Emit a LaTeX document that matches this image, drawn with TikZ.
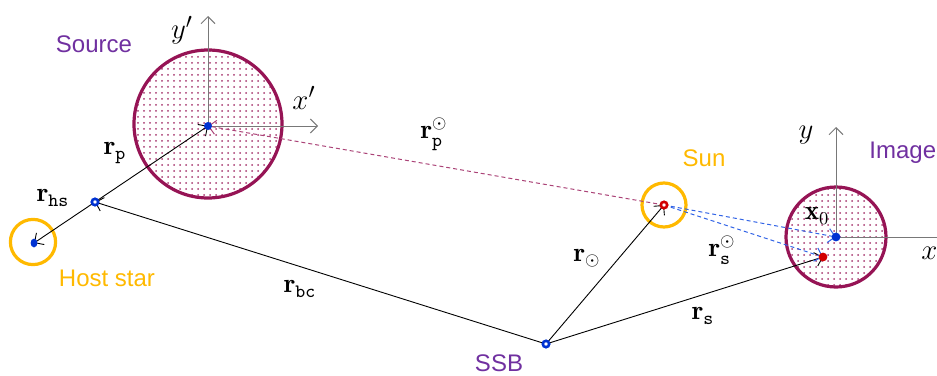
\documentclass[tikz,border=0pt]{standalone}
\usepackage{fontspec}
\newfontfamily\lab{Liberation Sans}
\usetikzlibrary{patterns,arrows.meta}
\definecolor{maroon}{RGB}{150,20,85}
\definecolor{sunyel}{RGB}{255,185,0}
\definecolor{lbl}{RGB}{112,48,160}
\definecolor{dotblue}{RGB}{0,50,210}
\definecolor{dotred}{RGB}{210,0,0}
\definecolor{dashblue}{RGB}{50,100,230}
\definecolor{axgray}{RGB}{120,120,120}
\tikzset{
  vec/.style={draw=black, line width=0.45pt, -{Straight Barb[length=3.5pt,width=7pt]}},
  dvec/.style={line width=0.5pt, dash pattern=on 2pt off 1.5pt, -{Straight Barb[length=3.5pt,width=7pt]}},
  axis/.style={draw=axgray, line width=0.5pt, -{Straight Barb[length=3.5pt,width=7pt]}},
  body/.style={draw=maroon, line width=1.6pt, pattern=dots, pattern color=maroon!85},
  star/.style={draw=sunyel, line width=1.6pt},
  ring/.style={draw=#1, line width=1.3pt, fill=white},
  mlab/.style={font=\fontsize{13.5}{15}\selectfont, inner sep=0pt},
  alab/.style={font=\fontsize{15.5}{17}\selectfont, inner sep=0pt},
  slab/.style={font=\lab\fontsize{12}{14}\selectfont, inner sep=0pt},
}
\begin{document}
\begin{tikzpicture}[x=0.5pt,y=-0.5pt]
\useasboundingbox (0,0) rectangle (937,375);
% points
\coordinate (S) at (208,126);
\coordinate (P) at (95,202);
\coordinate (H) at (34,243);
\coordinate (B) at (546,344);
\coordinate (C) at (664,205);
\coordinate (I) at (836,237);
\coordinate (R) at (823,257);
\coordinate (Sy) at (208,16);
\coordinate (Sx) at (318,126);
\coordinate (Iy) at (836,127);
\coordinate (Ix) at (945,237);
% bodies
\path[body] (208,124) circle (37pt);
\path[body] (836,237) circle (25pt);
\path[star] (33,242) circle (11.3pt);
\path[star] (664,205) circle (11pt);
% axes
\draw[axis] (S) -- (Sy);
\draw[axis] (S) -- (Sx);
\draw[axis] (I) -- (Iy);
\draw[axis] (I) -- (Ix);
% vectors
\draw[vec] (P) -- (S);
\draw[vec] (P) -- (H);
\draw[vec] (B) -- (P);
\draw[vec] (B) -- (C);
\draw[vec] (B) -- (R);
\draw[dvec, draw=maroon!80] (C) -- (S);
\draw[dvec, draw=dashblue] (C) -- (I);
\draw[dvec, draw=dashblue] (C) -- (R);
% markers
\fill[dotblue] (S) circle (2pt);
\fill[dotblue] (H) ellipse (1.7pt and 2.2pt);
\fill[dotblue] (I) circle (2.2pt);
\fill[dotred] (R) circle (2.2pt);
\draw[ring=dotblue] (P) circle (1.6pt);
\draw[ring=dotblue] (B) circle (1.6pt);
\draw[ring=dotred] (C) circle (1.6pt);
% labels
\node[slab, text=lbl] (lsource) at (94,44) {Source};
\node[slab, text=sunyel] (lhost) at (107,278) {Host star};
\node[slab, text=sunyel] (lsun) at (704,158) {Sun};
\node[slab, text=lbl] (lssb) at (499,363) {SSB};
\node[slab, text=lbl, anchor=west] (limage) at (869,153) {Image};
\node[alab] (lyp) at (182,30) {$y'$};
\node[alab] (lxp) at (304,98) {$x'$};
\node[alab] (ly) at (806,135) {$y$};
\node[alab, anchor=west] (lx) at (921,253) {$x$};
\node[mlab] (lrp) at (115,153) {$\mathbf{r}_{\mathtt{p}}$};
\node[mlab] (lrhs) at (53,198) {$\mathbf{r}_{\mathtt{hs}}$};
\node[mlab] (lrbc) at (300,289) {$\mathbf{r}_{\mathtt{bc}}$};
\node[mlab] (lrps) at (434,134) {$\mathbf{r}_{\mathtt{p}}^{\odot}$};
\node[mlab] (lrsun) at (587,258) {$\mathbf{r}_{\odot}$};
\node[mlab] (lrss) at (722,250) {$\mathbf{r}_{\mathtt{s}}^{\odot}$};
\node[mlab] (lrs) at (703,316) {$\mathbf{r}_{\mathtt{s}}$};
\node[mlab] (lx0) at (817,216) {$\mathbf{x}_0$};
\end{tikzpicture}
\end{document}
